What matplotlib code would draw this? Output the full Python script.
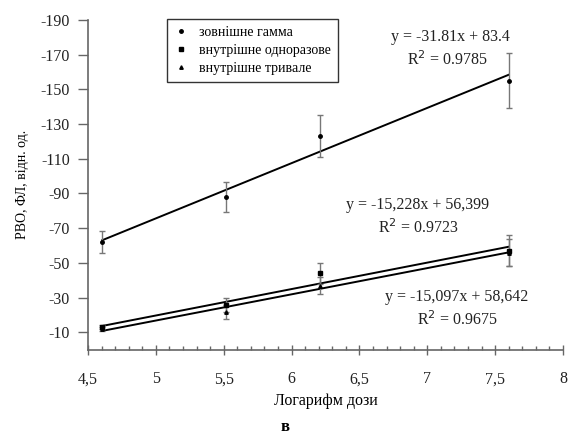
import matplotlib
matplotlib.use("Agg")
import matplotlib.pyplot as plt
import numpy as np
from matplotlib.ticker import MultipleLocator
from matplotlib.lines import Line2D

plt.rcParams['font.family'] = ['Liberation Serif', 'DejaVu Serif']

x = [4.605, 5.52, 6.21, 7.6]
gamma = [-62, -88, -123, -155]
gamma_err = [6.5, 8.5, 12, 16]
single = [-13, -26, -44, -57]
single_err = [1.2, 4, 6, 9]
prolonged = [-12, -22, -37, -56]
prolonged_err = [1, 4, 5, 8]

coef_gamma = (-31.81, 83.4)
coef_single = (-15.228, 56.399)
coef_prol = (-15.097, 58.642)

eq_gamma = ["y = -31.81x + 83.4", "R$^{2}$ = 0.9785"]
eq_single = ["y = -15,228x + 56,399", "R$^{2}$ = 0.9723"]
eq_prol = ["y = -15,097x + 58,642", "R$^{2}$ = 0.9675"]

labels = ["зовнішне гамма", "внутрішне одноразове", "внутрішне тривале"]
xticks = [4.5, 5, 5.5, 6, 6.5, 7, 7.5, 8]
xticklabels = ["4,5", "5", "5,5", "6", "6,5", "7", "7,5", "8"]
yticks = [-190, -170, -150, -130, -110, -90, -70, -50, -30, -10]

fig = plt.figure(figsize=(5.71, 4.40), dpi=100)
ax = fig.add_axes([0.154, 0.205, 0.832, 0.75])

xs = np.array([x[0], x[-1]])
for (k, b) in (coef_gamma, coef_single, coef_prol):
    ax.plot(xs, k * xs + b, color='black', lw=1.4, zorder=2)

ecol = '#777777'
markers = ['o', 's', '^']
for ys, es, m in ((gamma, gamma_err, 'o'), (single, single_err, 's'), (prolonged, prolonged_err, '^')):
    ax.errorbar(x, ys, yerr=es, fmt=m, ms=2.5, color='black', ecolor=ecol,
                elinewidth=1, capsize=2, zorder=3)

ax.set_xlim(4.5, 8)
ax.set_ylim(0, -190)
ax.set_xticks(xticks)
ax.set_xticklabels(xticklabels)
ax.xaxis.set_minor_locator(MultipleLocator(0.1))
ax.set_yticks(yticks)
ax.set_yticklabels([str(v) for v in yticks])

for s in ('top', 'right'):
    ax.spines[s].set_visible(False)
for s in ('left', 'bottom'):
    ax.spines[s].set_color('#666666')
    ax.spines[s].set_linewidth(1.2)

ax.tick_params(axis='y', direction='out', length=7, width=1, color='#666666',
               labelsize=11.5, labelcolor='#222222', pad=6)
ax.tick_params(axis='x', which='major', direction='inout', length=7, width=1,
               color='#666666', labelsize=11.5, labelcolor='#222222', pad=12)
ax.tick_params(axis='x', which='minor', direction='in', length=3, width=1, color='#666666')

ax.set_ylabel("РВО, ФЛ, відн. од.", fontsize=10, labelpad=8)
ax.set_xlabel("Логарифм дози", fontsize=11.5, labelpad=4)

handles = [Line2D([], [], linestyle='none', marker=m, ms=2.5, color='black') for m in markers]
leg = fig.legend(handles, labels, loc='upper left', bbox_to_anchor=(167 / 571, 1 - 19 / 440),
                 fontsize=10, frameon=True, fancybox=False, edgecolor='black',
                 handletextpad=0.8, handlelength=1.0, borderpad=0.5, labelspacing=0.35,
                 borderaxespad=0)
leg.get_frame().set_linewidth(1.0)

tkw = dict(fontsize=11.5, ha='center', va='center', color='#222222')
fig.text(450 / 571, 1 - 37 / 440, eq_gamma[0], **tkw)
fig.text(447 / 571, 1 - 60 / 440, eq_gamma[1], **tkw)
fig.text(418 / 571, 1 - 205 / 440, eq_single[0], **tkw)
fig.text(418 / 571, 1 - 228 / 440, eq_single[1], **tkw)
fig.text(457 / 571, 1 - 297 / 440, eq_prol[0], **tkw)
fig.text(457 / 571, 1 - 320 / 440, eq_prol[1], **tkw)

fig.text(285 / 571, 1 - 427 / 440, "в", fontsize=12, fontweight='bold', ha='center', va='center')

fig.savefig("out.png", dpi=100)
